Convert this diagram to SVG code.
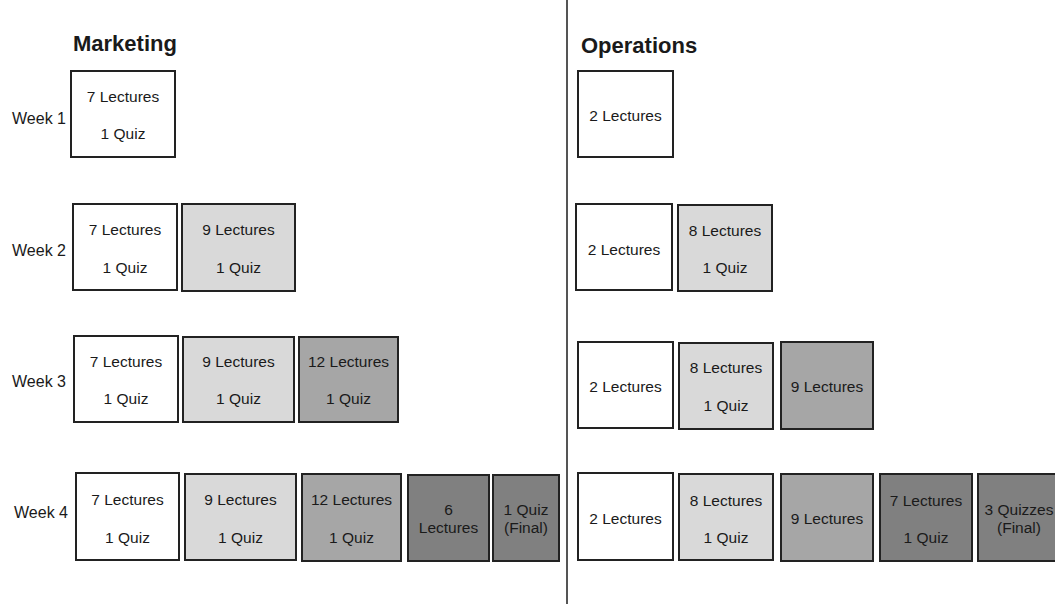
<svg xmlns="http://www.w3.org/2000/svg" width="1055" height="604" viewBox="0 0 1055 604">
<style>
.b{stroke:#222;stroke-width:2}
.w{fill:#fff}.l{fill:#d9d9d9}.m{fill:#a6a6a6}.d{fill:#808080}
text{font-family:"Liberation Sans",Arial,sans-serif;fill:#1a1a1a}
.t{font-size:15.5px;text-anchor:middle}
.wk{font-size:16px;text-anchor:end}
.h{font-size:22px;font-weight:bold}
</style>
<rect width="1055" height="604" fill="#fff"/>
<g id="divider"><line x1="567" y1="0" x2="567" y2="604" stroke="#555" stroke-width="2"/></g>
<g id="titles">
<text class="h" x="73" y="51">Marketing</text>
<text class="h" x="581" y="53">Operations</text>
</g>
<g id="week-labels">
<text class="wk" x="66" y="124">Week 1</text>
<text class="wk" x="66" y="256">Week 2</text>
<text class="wk" x="66" y="387">Week 3</text>
<text class="wk" x="68" y="518">Week 4</text>
</g>
<!-- Marketing -->
<g id="m-w1-a"><rect class="b w" x="71" y="71" width="104" height="86"/><text class="t" x="123" y="102">7 Lectures</text><text class="t" x="123" y="139">1 Quiz</text></g>
<g id="m-w2-a"><rect class="b w" x="73" y="204" width="104" height="86"/><text class="t" x="125" y="235">7 Lectures</text><text class="t" x="125" y="273">1 Quiz</text></g>
<g id="m-w2-b"><rect class="b l" x="182" y="204" width="113" height="87"/><text class="t" x="238.5" y="235">9 Lectures</text><text class="t" x="238.5" y="273">1 Quiz</text></g>
<g id="m-w3-a"><rect class="b w" x="74" y="336" width="104" height="86"/><text class="t" x="126" y="367">7 Lectures</text><text class="t" x="126" y="404">1 Quiz</text></g>
<g id="m-w3-b"><rect class="b l" x="183" y="337" width="111" height="85"/><text class="t" x="238.5" y="367">9 Lectures</text><text class="t" x="238.5" y="404">1 Quiz</text></g>
<g id="m-w3-c"><rect class="b m" x="299" y="337" width="99" height="85"/><text class="t" x="348.5" y="367">12 Lectures</text><text class="t" x="348.5" y="404">1 Quiz</text></g>
<g id="m-w4-a"><rect class="b w" x="76" y="473" width="103" height="87"/><text class="t" x="127.5" y="505">7 Lectures</text><text class="t" x="127.5" y="543">1 Quiz</text></g>
<g id="m-w4-b"><rect class="b l" x="185" y="474" width="111" height="86"/><text class="t" x="240.5" y="505">9 Lectures</text><text class="t" x="240.5" y="543">1 Quiz</text></g>
<g id="m-w4-c"><rect class="b m" x="302" y="474" width="99" height="87"/><text class="t" x="351.5" y="505">12 Lectures</text><text class="t" x="351.5" y="543">1 Quiz</text></g>
<g id="m-w4-d"><rect class="b d" x="408" y="475" width="81" height="86"/><text class="t" x="448.5" y="515">6</text><text class="t" x="448.5" y="533">Lectures</text></g>
<g id="m-w4-e"><rect class="b d" x="493" y="475" width="66" height="86"/><text class="t" x="526" y="515">1 Quiz</text><text class="t" x="526" y="533">(Final)</text></g>
<!-- Operations -->
<g id="o-w1-a"><rect class="b w" x="578" y="71" width="95" height="86"/><text class="t" x="625.5" y="121">2 Lectures</text></g>
<g id="o-w2-a"><rect class="b w" x="576" y="204" width="96" height="86"/><text class="t" x="624" y="255">2 Lectures</text></g>
<g id="o-w2-b"><rect class="b l" x="678" y="205" width="94" height="86"/><text class="t" x="725" y="236">8 Lectures</text><text class="t" x="725" y="273">1 Quiz</text></g>
<g id="o-w3-a"><rect class="b w" x="578" y="342" width="95" height="86"/><text class="t" x="625.5" y="392">2 Lectures</text></g>
<g id="o-w3-b"><rect class="b l" x="679" y="343" width="94" height="86"/><text class="t" x="726" y="373">8 Lectures</text><text class="t" x="726" y="411">1 Quiz</text></g>
<g id="o-w3-c"><rect class="b m" x="781" y="342" width="92" height="87"/><text class="t" x="827" y="392">9 Lectures</text></g>
<g id="o-w4-a"><rect class="b w" x="578" y="473" width="95" height="87"/><text class="t" x="625.5" y="524">2 Lectures</text></g>
<g id="o-w4-b"><rect class="b l" x="679" y="474" width="94" height="86"/><text class="t" x="726" y="506">8 Lectures</text><text class="t" x="726" y="543">1 Quiz</text></g>
<g id="o-w4-c"><rect class="b m" x="781" y="474" width="92" height="87"/><text class="t" x="827" y="524">9 Lectures</text></g>
<g id="o-w4-d"><rect class="b d" x="880" y="474" width="92" height="87"/><text class="t" x="926" y="506">7 Lectures</text><text class="t" x="926" y="543">1 Quiz</text></g>
<g id="o-w4-e"><rect class="b d" x="978" y="474" width="90" height="87"/><text class="t" x="1019" y="515">3 Quizzes</text><text class="t" x="1019" y="533">(Final)</text></g>
</svg>
